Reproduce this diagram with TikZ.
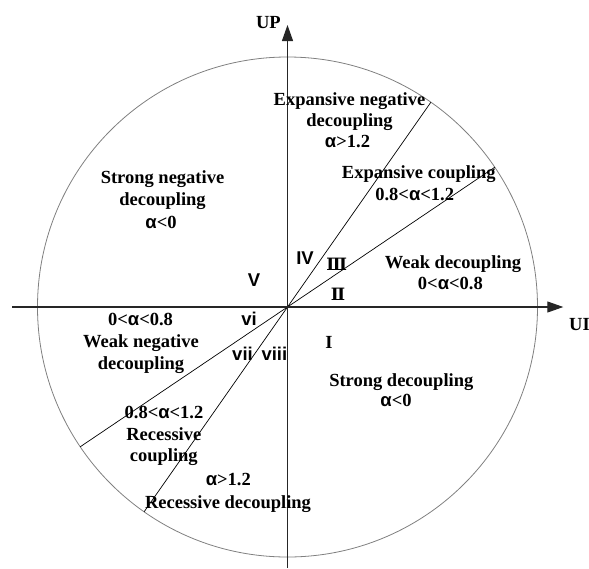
\documentclass[tikz,border=0pt]{standalone}
\usepackage{fontspec}
\setmainfont{Liberation Serif}
\setsansfont{Liberation Sans}
\newfontfamily\dvserif{DejaVu Serif}
\usetikzlibrary{arrows.meta}
\newcommand\alp{{\sffamily α}}
\begin{document}
\begin{tikzpicture}[x=1pt,y=-1pt,
  lbl/.style={font=\fontsize{18.5}{21.5}\selectfont\bfseries, inner sep=0pt, anchor=base},
  slbl/.style={lbl, font=\fontsize{18.5}{21.5}\selectfont\bfseries\sffamily},
  rlbl/.style={lbl, font=\fontsize{17}{20}\selectfont\bfseries\dvserif},
  axis/.style={line width=1.1pt, black!85, -{Triangle[length=16pt,width=11pt]}},
  ray/.style={line width=0.7pt, black},
  ring/.style={line width=0.8pt, black!50}]
\useasboundingbox (0,0) rectangle (589,568);
\coordinate (O) at (287.5,307);
\coordinate (xs) at (12,307);
\coordinate (xe) at (563.3,307);
\coordinate (ys) at (287.5,568);
\coordinate (ye) at (287.5,25);
\coordinate (a1) at (494.8,167.2);
\coordinate (a2) at (80.2,446.8);
\coordinate (b1) at (430.9,102.2);
\coordinate (b2) at (144.1,511.8);
\draw[ring] (O) circle[radius=250];
\draw[ray] (a1) -- (a2);
\draw[ray] (b1) -- (b2);
\draw[axis] (xs) -- (xe);
\draw[axis] (ys) -- (ye);
\node[lbl, anchor=base east] (UP) at (281,28) {UP};
\node[lbl, anchor=base west] (UI) at (569,330.7) {UI};
% labels
\node[lbl] (exn1) at (349.5,105) {Expansive negative};
\node[lbl] (exn2) at (349.5,126.7) {decoupling};
\node[lbl] (exn3) at (347.5,147.7) {\alp>1.2};
\node[lbl] (sn1) at (162.5,183.3) {Strong negative};
\node[lbl] (sn2) at (162.5,205.5) {decoupling};
\node[lbl] (sn3) at (161,228) {\alp<0};
\node[lbl] (ec1) at (418.8,178.3) {Expansive coupling};
\node[lbl] (ec2) at (414.7,200) {0.8<\alp<1.2};
\node[lbl] (wd1) at (453,268) {Weak decoupling};
\node[lbl] (wd2) at (450.4,289.6) {0<\alp<0.8};
\node[lbl] (wn0) at (140.5,325.8) {0<\alp<0.8};
\node[lbl] (wn1) at (141,347.6) {Weak negative};
\node[lbl] (wn2) at (141,369) {decoupling};
\node[lbl] (sd1) at (401.3,386.7) {Strong decoupling};
\node[lbl] (sd2) at (396,406) {\alp<0};
\node[lbl] (rc0) at (164,418.3) {0.8<\alp<1.2};
\node[lbl] (rc1) at (163.8,440) {Recessive};
\node[lbl] (rc2) at (163.8,461.7) {coupling};
\node[lbl] (rd0) at (228.3,485) {\alp>1.2};
\node[lbl] (rd1) at (228,508.3) {Recessive decoupling};
% region numerals
\node[slbl] (rIV) at (305,264) {IV};
\node[rlbl] (rIII) at (336.7,270) {Ⅲ};
\node[slbl] (rV) at (254,286.7) {V};
\node[rlbl] (rII) at (338,300) {Ⅱ};
\node[slbl] (rvi) at (249,325) {vi};
\node[lbl] (rI) at (329,348) {I};
\node[slbl] (rvii) at (242.5,360) {vii};
\node[slbl] (rviii) at (274.4,360) {viii};
\end{tikzpicture}
\end{document}
